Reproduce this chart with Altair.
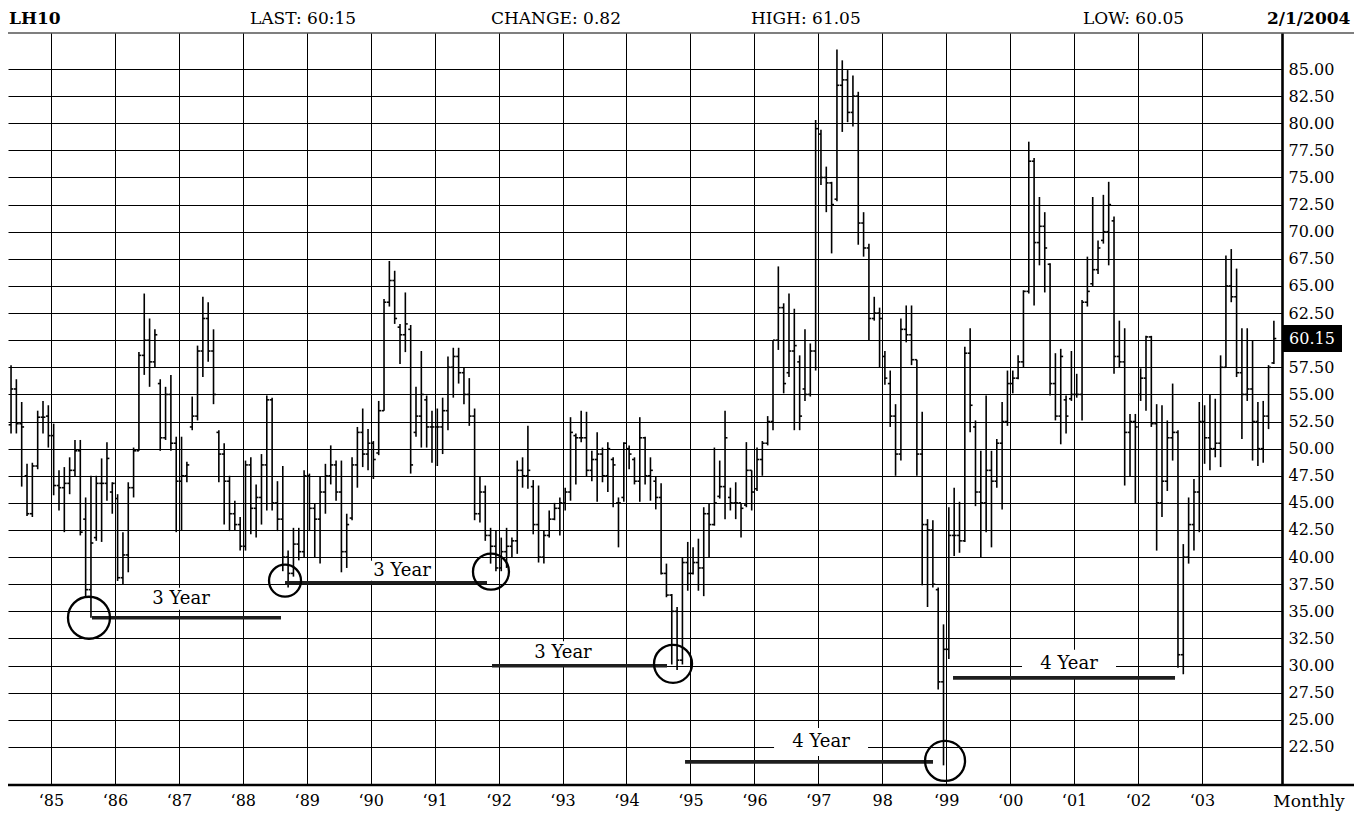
import altair as alt
import pandas as pd

# ---------------- data (monthly OHLC, May 1984 .. Feb 2004) ----------------
START_YEAR, START_MONTH = 1984, 5

HIGH = [
    57.7, 56.4, 54.3, 48.6, 48.7, 53.5, 54.4, 54.0,                          # 1984
    52.3, 48.0, 48.3, 49.2, 50.8, 50.8, 45.5, 47.5, 47.5, 49.1, 50.6, 46.9,  # 1985
    45.8, 42.3, 46.9, 50.1, 58.9, 64.3, 62.0, 61.0, 56.4, 55.7, 56.8, 51.1,  # 1986
    51.1, 48.8, 54.8, 59.5, 64.0, 63.5, 61.0, 51.7, 50.5, 47.5, 45.2, 43.7,  # 1987
    48.9, 49.2, 46.7, 49.5, 54.9, 54.7, 47.0, 48.4, 40.6, 42.7, 42.7, 48.0,  # 1988
    47.7, 44.9, 47.4, 48.6, 50.3, 48.9, 48.9, 44.0, 49.2, 52.0, 53.7, 51.8,  # 1989
    50.7, 54.4, 63.8, 67.3, 66.4, 61.5, 64.4, 61.4, 55.7, 59.0, 54.9, 53.5,  # 1990
    53.7, 54.7, 58.5, 59.3, 59.3, 57.5, 56.5, 53.7, 47.4, 46.6, 42.7, 42.4,  # 1991
    41.8, 42.7, 41.8, 48.9, 49.2, 52.1, 47.1, 46.6, 42.4, 44.3, 45.0, 45.5,  # 1992
    46.4, 52.9, 51.4, 53.5, 53.4, 49.8, 51.5, 50.1, 50.6, 49.2, 45.5, 50.6,  # 1993
    50.3, 49.2, 52.9, 51.1, 49.2, 47.4, 46.8, 39.4, 36.6, 35.4, 40.0, 41.4,  # 1994
    40.9, 41.7, 44.6, 45.0, 50.1, 48.9, 53.5, 46.4, 46.9, 45.0, 50.6, 48.0,  # 1995
    50.1, 50.7, 53.0, 60.0, 66.8, 63.4, 64.3, 62.9, 58.6, 61.0, 59.7, 80.3,  # 1996
    79.4, 76.0, 74.6, 86.8, 85.8, 84.9, 84.4, 82.9, 71.8, 68.9, 64.0, 63.0,  # 1997
    59.0, 57.2, 54.1, 62.0, 63.2, 63.2, 58.2, 53.4, 43.5, 43.4, 37.2, 33.8,  # 1998
    44.6, 46.4, 45.1, 59.4, 61.1, 52.6, 49.8, 54.9, 49.8, 50.9, 54.3, 57.2,  # 1999
    57.2, 58.6, 64.6, 78.3, 76.8, 73.2, 71.8, 67.1, 58.8, 59.2, 54.9, 59.0,  # 2000
    56.9, 63.7, 67.7, 73.2, 69.2, 73.4, 74.6, 71.4, 61.8, 61.1, 53.2, 53.2,  # 2001
    57.4, 60.4, 60.4, 54.1, 54.0, 52.6, 56.0, 51.7, 41.2, 45.5, 47.2, 54.3,  # 2002
    54.0, 55.0, 54.6, 58.6, 67.8, 68.4, 66.6, 61.1, 61.1, 60.0, 54.3, 54.4,  # 2003
    57.7, 61.8,                                                              # 2004
]
LOW = [
    51.4, 51.4, 46.5, 43.8, 43.7, 48.1, 51.4, 50.1,
    45.7, 44.3, 42.3, 45.8, 47.4, 42.0, 36.3, 34.4, 41.5, 41.4, 45.2, 44.0,
    37.8, 37.5, 38.6, 45.5, 49.8, 56.8, 55.7, 57.5, 49.8, 50.8, 49.8, 42.3,
    42.5, 46.9, 51.7, 52.6, 56.6, 58.0, 54.1, 46.9, 43.0, 42.4, 42.4, 40.6,
    40.6, 42.1, 41.8, 43.0, 44.3, 44.3, 42.4, 38.7, 37.2, 38.2, 39.7, 40.0,
    42.4, 40.0, 39.4, 44.0, 46.7, 45.2, 38.6, 39.0, 43.4, 46.4, 48.3, 48.0,
    47.2, 49.4, 53.5, 63.1, 61.5, 57.8, 58.9, 47.7, 51.1, 50.1, 50.1, 48.7,
    48.4, 49.5, 51.7, 54.7, 56.0, 54.1, 52.1, 43.4, 43.2, 41.5, 39.4, 38.7,
    38.7, 39.0, 40.0, 40.3, 46.4, 46.3, 42.1, 39.5, 39.4, 41.8, 43.4, 42.0,
    44.3, 45.2, 46.7, 50.6, 47.4, 47.0, 45.1, 46.9, 46.0, 44.6, 40.9, 45.1,
    48.1, 46.7, 45.1, 46.7, 45.2, 44.4, 38.4, 36.3, 30.1, 29.6, 30.1, 36.9,
    38.4, 36.9, 36.4, 40.0, 42.9, 45.4, 43.5, 44.3, 43.5, 41.8, 44.6, 44.3,
    46.1, 47.5, 50.3, 51.7, 59.1, 55.1, 56.6, 51.7, 51.7, 54.4, 54.8, 57.2,
    74.3, 71.8, 68.0, 72.8, 79.2, 80.1, 79.7, 68.8, 67.7, 60.0, 61.8, 57.5,
    55.9, 52.0, 47.5, 48.9, 59.8, 57.7, 47.5, 37.4, 35.4, 37.2, 27.8, 20.8,
    30.6, 40.1, 40.4, 41.4, 51.5, 44.7, 40.0, 42.3, 40.9, 46.4, 44.4, 52.1,
    55.1, 56.4, 57.5, 64.3, 63.2, 66.9, 64.4, 54.9, 52.6, 50.4, 51.4, 54.4,
    54.7, 52.6, 63.1, 64.9, 66.1, 68.9, 66.9, 56.9, 57.5, 46.6, 47.4, 44.9,
    54.4, 53.5, 52.0, 40.6, 43.7, 46.1, 48.9, 29.8, 29.2, 39.4, 40.6, 42.3,
    48.6, 48.0, 49.2, 48.3, 57.5, 63.5, 56.6, 50.9, 54.4, 48.9, 48.4, 48.7,
    51.8, 57.8,
]
OPEN = [
    52.2, 55.5, 52.3, 47.5, 44.0, 48.4, 52.9, 53.0,
    51.2, 46.6, 46.4, 46.8, 48.0, 49.8, 43.5, 37.0, 41.8, 46.8, 46.8, 46.0,
    45.4, 38.1, 40.2, 46.4, 49.8, 58.6, 60.0, 58.0, 56.0, 51.0, 55.0, 50.5,
    47.0, 47.5, 52.0, 53.0, 59.0, 62.0, 59.0, 51.5, 49.5, 47.0, 44.0, 43.0,
    41.0, 48.5, 44.5, 45.5, 48.5, 54.5, 45.0, 43.5, 40.0, 38.5, 41.2, 40.5,
    47.5, 44.5, 43.5, 46.0, 47.5, 48.5, 46.0, 40.5, 43.6, 48.5, 51.5, 49.5,
    50.5, 49.6, 53.5, 63.5, 65.5, 61.2, 60.5, 61.0, 51.5, 53.0, 54.5, 52.0,
    52.0, 52.0, 53.5, 57.5, 58.5, 57.0, 55.0, 53.0, 44.0, 46.0, 42.0, 41.0,
    39.0, 40.5, 41.0, 41.5, 48.0, 47.5, 46.5, 43.0, 40.0, 42.0, 43.5, 44.5,
    45.0, 46.0, 51.2, 51.0, 51.0, 48.0, 49.0, 49.5, 47.5, 49.0, 45.0, 45.5,
    50.0, 49.0, 47.0, 51.0, 47.5, 47.0, 45.5, 38.5, 36.5, 35.0, 30.5, 39.5,
    38.5, 39.5, 39.0, 44.0, 43.0, 45.6, 46.5, 45.5, 45.0, 45.0, 44.8, 48.0,
    46.3, 49.0, 50.5, 52.5, 60.0, 63.0, 57.0, 59.0, 58.0, 55.5, 55.0, 59.0,
    79.0, 75.0, 74.5, 73.0, 83.5, 84.0, 81.0, 82.5, 70.8, 68.5, 62.0, 62.5,
    58.5, 56.0, 53.0, 49.5, 61.0, 60.5, 58.2, 49.5, 43.0, 42.5, 37.0, 28.5,
    31.5, 42.0, 42.0, 41.5, 58.8, 52.0, 46.0, 45.0, 48.0, 47.0, 50.5, 52.5,
    56.0, 56.5, 58.0, 64.5, 76.5, 69.0, 70.5, 67.0, 56.0, 53.0, 54.5, 54.6,
    55.0, 55.0, 63.5, 65.2, 66.5, 69.2, 70.0, 71.0, 58.5, 58.0, 51.5, 52.5,
    55.0, 56.5, 60.3, 52.3, 45.0, 47.0, 51.0, 51.5, 31.0, 40.0, 43.0, 46.0,
    52.5, 51.0, 50.0, 50.5, 57.5, 65.0, 64.0, 57.0, 55.0, 55.5, 52.5, 50.0,
    53.0, 57.9,
]
CLOSE = [
    55.5, 52.3, 52.0, 44.0, 48.4, 52.9, 52.9, 51.2,
    46.6, 46.4, 46.8, 48.0, 49.8, 42.3, 37.0, 41.3, 46.8, 46.8, 49.1, 46.8,
    38.1, 40.2, 46.4, 49.8, 58.6, 60.0, 58.0, 60.5, 51.0, 55.0, 50.5, 47.0,
    47.5, 48.5, 53.0, 59.0, 62.0, 59.0, 55.0, 49.5, 47.0, 44.0, 43.0, 41.0,
    48.5, 44.5, 45.5, 48.5, 54.5, 45.0, 43.5, 40.0, 38.5, 41.2, 40.5, 47.5,
    44.5, 43.5, 46.0, 47.5, 48.5, 46.0, 40.5, 43.0, 48.5, 51.5, 49.5, 50.5,
    49.0, 53.5, 63.5, 65.5, 62.0, 60.5, 61.5, 48.5, 53.0, 55.0, 52.0, 52.0,
    52.0, 53.5, 57.5, 58.5, 57.0, 55.0, 53.0, 44.0, 46.0, 42.0, 41.0, 39.0,
    40.5, 41.0, 41.5, 48.0, 47.5, 48.0, 43.0, 40.0, 42.0, 43.5, 44.5, 45.0,
    46.0, 51.5, 51.0, 51.0, 48.0, 49.0, 49.5, 47.5, 50.0, 48.5, 45.0, 50.5,
    49.5, 47.0, 51.0, 47.5, 48.0, 45.5, 38.5, 36.5, 35.0, 30.5, 39.5, 38.5,
    39.5, 39.0, 44.0, 43.0, 45.0, 46.5, 51.0, 45.0, 45.0, 44.5, 48.0, 46.0,
    49.0, 50.5, 52.5, 60.0, 63.0, 56.0, 59.0, 59.5, 53.0, 55.0, 59.0, 79.5,
    75.0, 74.5, 72.5, 83.5, 84.0, 81.0, 82.5, 70.8, 68.5, 62.0, 62.5, 62.0,
    56.5, 53.0, 49.5, 61.0, 60.5, 58.2, 49.5, 43.0, 42.5, 37.5, 28.5, 31.5,
    42.0, 42.0, 41.5, 58.8, 54.0, 46.0, 45.0, 48.0, 47.0, 50.5, 52.5, 56.0,
    56.5, 58.0, 64.5, 76.5, 69.0, 70.5, 68.5, 56.0, 53.0, 58.5, 53.0, 55.0,
    55.0, 63.5, 64.5, 66.5, 68.5, 70.0, 72.5, 58.5, 58.0, 51.5, 52.5, 52.0,
    56.5, 60.3, 52.3, 45.0, 47.0, 51.0, 51.5, 31.0, 40.0, 43.0, 46.0, 52.5,
    51.0, 50.0, 50.5, 57.5, 65.0, 64.0, 57.0, 55.0, 55.5, 52.5, 50.0, 53.0,
    57.5, 60.15,
]
assert len(HIGH) == len(LOW) == len(OPEN) == len(CLOSE) == 238

YEARS = [1985, 1986, 1987, 1988, 1989, 1990, 1991, 1992, 1993, 1994,
         1995, 1996, 1997, 1998, 1999, 2000, 2001, 2002, 2003]
Y_TICKS = [22.5, 25.0, 27.5, 30.0, 32.5, 35.0, 37.5, 40.0, 42.5, 45.0, 47.5,
           50.0, 52.5, 55.0, 57.5, 60.0, 62.5, 65.0, 67.5, 70.0, 72.5, 75.0,
           77.5, 80.0, 82.5, 85.0]

# annotations (data coordinates: fractional year, price)
CIRCLE_T = [1985.594, 1988.660, 1991.881, 1994.728, 1998.982]
CIRCLE_V = [34.41, 37.83, 38.66, 30.16, 21.21]
LINE_T1 = [1985.641, 1988.660, 1991.897, 1994.916, 1999.107]
LINE_T2 = [1988.597, 1991.819, 1994.634, 1998.794, 2002.579]
LINE_V = [34.41, 37.64, 29.98, 21.12, 28.87]
LABEL_TEXT = ["3 Year", "3 Year", "3 Year", "4 Year", "4 Year"]
LABEL_T = [1987.033, 1990.490, 1993.007, 1997.043, 2000.921]
LABEL_V = [36.16, 38.75, 31.18, 22.96, 30.16]

HEADER_TEXT = ["LAST: 60:15", "CHANGE: 0.82", "HIGH: 61.05", "LOW: 60.05"]
HEADER_BOLD = ["LH10", "2/1/2004"]
LAST_VALUE = 60.15

# ---------------- layout / style ----------------
W, H = 1274, 752
X_DOMAIN = [1984.3275, 2004.252]
Y_DOMAIN = [18.99, 88.32]
PX_PER_YEAR = W / (X_DOMAIN[1] - X_DOMAIN[0])
PX_PER_UNIT = H / (Y_DOMAIN[1] - Y_DOMAIN[0])
TICK_LEN = 0.45 / 12
CIRCLE_R = [21, 16, 18, 19, 20]
BOX_W = [66, 64, 66, 94, 94]
BOX_H = [22, 20, 23, 28, 28]
HEADER_X = [242, 483, 743, 1075]
HEADER_BOLD_X = [1, 1259]
FONT = "DejaVu Serif"

rows = []
for i in range(len(HIGH)):
    m = START_MONTH - 1 + i
    t = START_YEAR + m // 12 + (m % 12 + 0.5) / 12
    rows.append({"t": t, "tl": t - TICK_LEN, "tr": t + TICK_LEN,
                 "high": HIGH[i], "low": LOW[i], "open": OPEN[i], "close": CLOSE[i]})
bars = pd.DataFrame(rows)

circ = pd.DataFrame({"t": CIRCLE_T, "v": CIRCLE_V,
                     "size": [(2 * r) ** 2 for r in CIRCLE_R]})
seg = pd.DataFrame({"t1": LINE_T1, "t2": LINE_T2, "v": LINE_V})
lab = pd.DataFrame({"t": LABEL_T, "v": LABEL_V, "text": LABEL_TEXT})
lab["x1"] = [t - w / 2 / PX_PER_YEAR for t, w in zip(LABEL_T, BOX_W)]
lab["x2"] = [t + w / 2 / PX_PER_YEAR for t, w in zip(LABEL_T, BOX_W)]
lab["y1"] = [v - h / 2 / PX_PER_UNIT for v, h in zip(LABEL_V, BOX_H)]
lab["y2"] = [v + h / 2 / PX_PER_UNIT for v, h in zip(LABEL_V, BOX_H)]

xs = alt.Scale(domain=X_DOMAIN, nice=False, zero=False)
ys = alt.Scale(domain=Y_DOMAIN, nice=False, zero=False)

x_axis = alt.Axis(
    values=YEARS, grid=True, gridColor="black", gridWidth=1, gridOpacity=1,
    domain=False, ticks=False, title=None,
    labelExpr="datum.value == 1998 ? '98' : '\u2018' + substring(toString(datum.value), 2, 4)",
    labelFont=FONT, labelFontSize=16, labelColor="black", labelPadding=7,
)
y_axis = alt.Axis(
    orient="right", values=Y_TICKS, grid=True, gridColor="black", gridWidth=1,
    gridOpacity=1, domain=True, domainColor="black", domainWidth=2.6,
    ticks=False, title=None,
    labelExpr="datum.value == 60 ? '' : format(datum.value, '.2f')",
    labelFont=FONT, labelFontSize=16, labelColor="black", labelPadding=6,
)


def X(field):
    return alt.X(field, type="quantitative", scale=xs, axis=x_axis)


def Y(field):
    return alt.Y(field, type="quantitative", scale=ys, axis=y_axis)


hl = alt.Chart(bars).mark_rule(color="black", strokeWidth=1.6).encode(
    x=X("t"), y=Y("low"), y2="high:Q")
op = alt.Chart(bars).mark_rule(color="black", strokeWidth=1.6).encode(
    x=X("tl"), x2="t:Q", y=Y("open"))
cl = alt.Chart(bars).mark_rule(color="black", strokeWidth=1.6).encode(
    x=X("t"), x2="tr:Q", y=Y("close"))

one = pd.DataFrame({"a": [0]})
top_line = alt.Chart(one).mark_rule(color="black", strokeWidth=1.2).encode(
    x=alt.value(0), x2=alt.value(W + 72), y=alt.value(0))
bottom_line = alt.Chart(one).mark_rule(color="black", strokeWidth=2.6).encode(
    x=alt.value(0), x2=alt.value(W + 72), y=alt.value(H))

boxes = alt.Chart(lab).mark_rect(color="white").encode(
    x=X("x1"), x2="x2:Q", y=Y("y1"), y2="y2:Q")
texts = alt.Chart(lab).mark_text(font=FONT, fontSize=18, color="black",
                                 baseline="middle", align="center").encode(
    x=X("t"), y=Y("v"), text="text:N")
segs = alt.Chart(seg).mark_rule(color="#1e1e1e", strokeWidth=3.6).encode(
    x=X("t1"), x2="t2:Q", y=Y("v"))
circles = alt.Chart(circ).mark_point(shape="circle", filled=False, color="black",
                                     strokeWidth=2.3, opacity=1).encode(
    x=X("t"), y=Y("v"), size=alt.Size("size:Q", scale=None, legend=None))

last_df = pd.DataFrame({"v": [LAST_VALUE], "label": [f"{LAST_VALUE:.2f}"]})
last_box = alt.Chart(last_df).transform_calculate(
    top="datum.v + 1.25", bot="datum.v - 1.25"
).mark_rect(color="black").encode(
    x=alt.value(W + 1), x2=alt.value(W + 60), y=Y("top"), y2="bot:Q")
last_txt = alt.Chart(last_df).mark_text(font=FONT, fontSize=16, color="white",
                                        align="center", baseline="middle").encode(
    x=alt.value(W + 30), y=Y("v"), text="label:N")


def header_item(text, px, bold):
    return alt.Chart(one).mark_text(
        font=FONT, fontSize=17, fontWeight="bold" if bold else "normal",
        color="black", align="left", baseline="middle", text=text,
    ).encode(x=alt.value(px), y=alt.value(-14))


headers = [header_item(t, p, False) for t, p in zip(HEADER_TEXT, HEADER_X)]
headers += [header_item(t, p, True) for t, p in zip(HEADER_BOLD, HEADER_BOLD_X)]

monthly = alt.Chart(one).mark_text(
    font=FONT, fontSize=17, color="black", align="center", baseline="middle",
    text="Monthly",
).encode(x=alt.value(W + 27), y=alt.value(H + 17))

chart = alt.layer(
    hl, op, cl, top_line, bottom_line, boxes, texts, segs, circles,
    last_box, last_txt, monthly, *headers,
).properties(
    width=W, height=H,
    padding={"left": 0, "top": 25, "right": 72, "bottom": 28},
    autosize=alt.AutoSizeParams(type="none"),
    background="white",
).configure_view(stroke=None)

chart.save("out.html", embed_options={"renderer": "svg", "actions": False})
